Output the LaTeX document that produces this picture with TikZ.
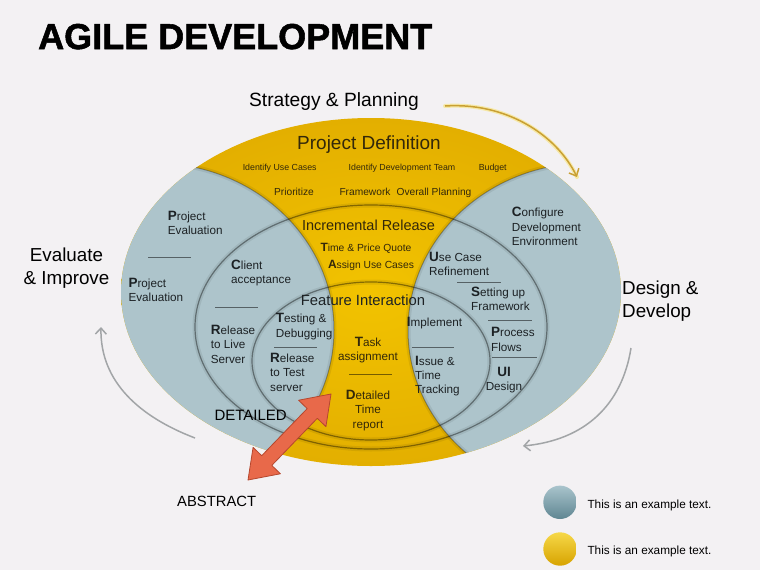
\documentclass[tikz,border=0pt]{standalone}
\usepackage{fontspec}
\setmainfont{Liberation Sans}
\newfontface\titlefont{Liberation Sans Bold}[FakeBold=1.5]
\usetikzlibrary{arrows.meta,calc}
\definecolor{bgpaper}{HTML}{F3F1F3}
\definecolor{lobegray}{HTML}{ADC4CB}
\definecolor{goldin}{HTML}{F2C300}
\definecolor{goldout}{HTML}{E3AF00}
\definecolor{goldtext}{HTML}{33280A}
\definecolor{inktext}{HTML}{1C2124}
\definecolor{arcgold}{HTML}{C9A033}
\definecolor{arcglow}{HTML}{F6E9A8}
\definecolor{arcgray}{HTML}{A2A5A7}
\definecolor{arroworange}{HTML}{E8694A}
\definecolor{arrowedge}{HTML}{B5472E}
\definecolor{ballgrayhi}{HTML}{A9C4CC}
\definecolor{ballgraylo}{HTML}{5F8692}
\definecolor{ballgoldhi}{HTML}{F6D848}
\definecolor{ballgoldlo}{HTML}{D7A300}
\newcommand\bigini[2][13.5]{{\fontsize{#1}{#1}\selectfont\bfseries #2}}
\tikzset{
 item/.style={inner sep=0pt, align=left, anchor=north west, text=inktext,
   font=\fontsize{11.7}{14.3}\selectfont},
 citem/.style={item, align=center, anchor=north},
 golditem/.style={citem, text=goldtext},
 bandrow/.style={inner sep=0pt, anchor=base, text=goldtext},
 outside/.style={inner sep=0pt, text=black, font=\fontsize{18.8}{23}\selectfont},
 divider/.style={draw=black, opacity=.5, line width=.8pt},
 ringline/.style={draw=black, opacity=.4, line width=1.2pt},
 ringshadow/.style={draw=black, opacity=.07, line width=5pt},
 cyclearc/.style={line width=1.5pt, -{Straight Barb[length=6pt,width=11pt]}},
 legendball/.style={circle, minimum size=33.4pt, inner sep=0pt},
 legendtext/.style={inner sep=0pt, anchor=base west, font=\fontsize{11.8}{14}\selectfont},
}

\begin{document}
\begin{tikzpicture}[x=1pt,y=-1pt]
\useasboundingbox (0,0) rectangle (760,570);
\fill[bgpaper] (0,0) rectangle (760,570);

% big ellipse with the two grey lobes
\shade[inner color=goldin, outer color=goldout] (371,292) ellipse [x radius=250, y radius=174];
\begin{scope}
  \clip (371,292) ellipse [x radius=250, y radius=174];
  \foreach \cx in {154, 588} {
    \fill[lobegray] (\cx,330) ellipse [x radius=180, y radius=167];
    \draw[ringshadow] (\cx,330) ellipse [x radius=180, y radius=167];
    \draw[ringline, opacity=.3, line width=1pt] (\cx,330) ellipse [x radius=180, y radius=167];
  }
\end{scope}
\foreach \cy/\rx/\ry in {327/176/122, 361/119/79} {
  \draw[ringshadow] (371,\cy) ellipse [x radius=\rx, y radius=\ry];
  \draw[ringline] (371,\cy) ellipse [x radius=\rx, y radius=\ry];
}

% dividers
\foreach \xa/\xb/\yy in {148/191/257.3, 215/258/307.3, 274/317/347, 349/392/374,
    457/500.7/282.3, 488/532/320, 492/537/357.7, 412/454/347}
  \draw[divider] (\xa,\yy) -- (\xb,\yy);

% title and outer labels
\node[inner sep=0pt, anchor=base west, font=\titlefont\fontsize{36}{36}\selectfont] (title) at (38,49) {AGILE DEVELOPMENT};
\node[outside, anchor=base, font=\fontsize{19.2}{23}\selectfont] (strategy) at (334,106.7) {Strategy \& Planning};
\node[outside, align=center, anchor=north] (evalimprove) at (66.5,247.8) {Evaluate\\\& Improve};
\node[outside, align=left, anchor=north west] (designdev) at (622,280.5) {Design \&\\Develop};
\node[inner sep=0pt, anchor=base west, font=\fontsize{15}{15}\selectfont] (detailed) at (214.3,420) {DETAILED};
\node[inner sep=0pt, anchor=base west, font=\fontsize{14.8}{15}\selectfont] (abstract) at (177,506) {ABSTRACT};

% project definition band
\node[bandrow, font=\fontsize{19}{19}\selectfont] (projdef) at (369,149.3) {Project Definition};
\node[bandrow, font=\fontsize{8.8}{10}\selectfont] (usecases) at (279.7,170.7) {Identify Use Cases};
\node[bandrow, font=\fontsize{8.8}{10}\selectfont] (devteam) at (402,170.7) {Identify Development Team};
\node[bandrow, font=\fontsize{8.8}{10}\selectfont] (budget) at (492.7,170.7) {Budget};
\node[bandrow, font=\fontsize{10.2}{12}\selectfont] (prioritize) at (294,195.3) {Prioritize};
\node[bandrow, font=\fontsize{10.2}{12}\selectfont] (framework) at (365,195.3) {Framework};
\node[bandrow, font=\fontsize{10.2}{12}\selectfont] (overall) at (434,195.3) {Overall Planning};

% incremental release and feature interaction
\node[bandrow, font=\fontsize{14.5}{15}\selectfont] (increlease) at (368.5,230) {Incremental Release};
\node[bandrow, font=\fontsize{10.3}{12}\selectfont] (pricequote) at (366,251) {\bigini[12]{T}ime \& Price Quote};
\node[bandrow, font=\fontsize{10.3}{12}\selectfont] (assignuc) at (371,268) {\bigini[12]{A}ssign Use Cases};
\node[bandrow, text=inktext, font=\fontsize{14.8}{15}\selectfont] (featint) at (363,305) {Feature Interaction};

% left lobe
\node[item] (projevala) at (167.7,210.7) {\bigini{P}roject\\Evaluation};
\node[item] (projevalb) at (128.3,277.7) {\bigini{P}roject\\Evaluation};
\node[item] (clientacc) at (231,260) {\bigini{C}lient\\acceptance};
\node[item] (livesrv) at (210.7,325) {\bigini{R}elease\\to Live\\Server};
\node[item] (testdebug) at (275.7,313.3) {\bigini{T}esting \&\\Debugging};
\node[item] (testsrv) at (270,353) {\bigini{R}elease\\to Test\\server};

% middle
\node[golditem] (taskassign) at (368,337) {\bigini{T}ask\\assignment};
\node[golditem] (timereport) at (368,390) {\bigini{D}etailed\\Time\\report};

% right lobe
\node[item] (configenv) at (511.7,207.3) {\bigini{C}onfigure\\Development\\Environment};
\node[item] (ucrefine) at (429,251.7) {\bigini{U}se Case\\Refinement};
\node[item] (setupfw) at (471,286.7) {\bigini{S}etting up\\Framework};
\node[item] (procflows) at (491,327.3) {\bigini{P}rocess\\Flows};
\node[citem] (uidesign) at (504,366.7) {\bigini{UI}\\Design};
\node[item] (implement) at (406.7,316.7) {\bigini{I}mplement};
\node[item] (issuetrack) at (415,355.7) {\bigini{I}ssue \&\\Time\\Tracking};

% cycle arrows
\coordinate (plan-tail) at (445,106);
\coordinate (plan-tip) at (577,177);
\coordinate (eval-tail) at (195,438);
\coordinate (eval-tip) at (101,327);
\coordinate (dev-tail) at (631,348);
\coordinate (dev-tip) at (523,446);
\draw[arcglow, line width=4pt, line cap=round] (plan-tail) .. controls (505,102) and (556,134) .. (plan-tip);
\draw[cyclearc, arcgold] (plan-tail) .. controls (505,102) and (556,134) .. (plan-tip);
\draw[cyclearc, arcgray] (eval-tail) .. controls (140,417) and (100,382) .. (eval-tip);
\draw[cyclearc, arcgray] (dev-tail) .. controls (622,405) and (585,440) .. (dev-tip);

% detailed / abstract arrow
\coordinate (abs-end) at (248,480);
\coordinate (det-end) at (331,394);
\filldraw[fill=arroworange, draw=arrowedge, line width=.8pt, line join=round]
  (abs-end) -- ($(abs-end)!27pt!(det-end)!19pt!90:(det-end)$)
  -- ($(abs-end)!27pt!(det-end)!7pt!90:(det-end)$)
  -- ($(det-end)!27pt!(abs-end)!7pt!-90:(abs-end)$)
  -- ($(det-end)!27pt!(abs-end)!19pt!-90:(abs-end)$)
  -- (det-end)
  -- ($(det-end)!27pt!(abs-end)!19pt!90:(abs-end)$)
  -- ($(det-end)!27pt!(abs-end)!7pt!90:(abs-end)$)
  -- ($(abs-end)!27pt!(det-end)!7pt!-90:(det-end)$)
  -- ($(abs-end)!27pt!(det-end)!19pt!-90:(det-end)$) -- cycle;

% legend
\node[legendball, top color=ballgrayhi, bottom color=ballgraylo] (keygray) at (560,502.3) {};
\node[legendball, top color=ballgoldhi, bottom color=ballgoldlo] (keygold) at (560,549) {};
\node[legendtext] (keygraytext) at (587.3,508.3) {This is an example text.};
\node[legendtext] (keygoldtext) at (587.3,554.3) {This is an example text.};
\end{tikzpicture}
\end{document}
